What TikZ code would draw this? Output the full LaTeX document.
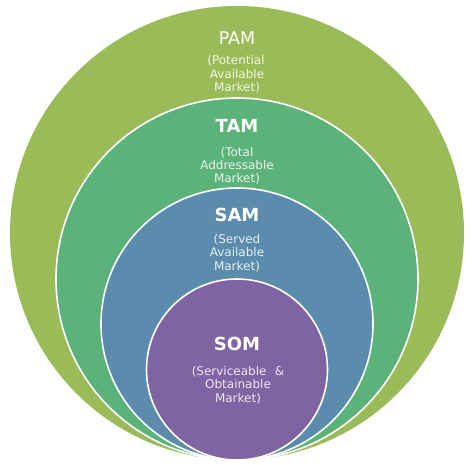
\documentclass[tikz,border=0pt]{standalone}
\usepackage{fontspec}
\setmainfont{DejaVu Sans}
\definecolor{pamc}{HTML}{9BBB59}
\definecolor{tamc}{HTML}{5CB37A}
\definecolor{samc}{HTML}{5B8CAE}
\definecolor{somc}{HTML}{8063A2}
\begin{document}
\begin{tikzpicture}[x=1pt,y=-1pt,
  ring/.style={draw=white,line width=1.6pt},
  ttl/.style={anchor=base,text=white,inner sep=0pt,font=\fontsize{18}{18}\selectfont\bfseries},
  sub/.style={anchor=base,inner sep=0pt,font=\fontsize{12}{13.5}\selectfont}]
\useasboundingbox (0,0) rectangle (474,465);
\fill[white] (0,0) rectangle (474,465);
\fill[pamc] (237,233) circle (227);
\filldraw[ring,fill=tamc] (237,279) circle (181);
\filldraw[ring,fill=samc] (237,324) circle (136);
\filldraw[ring,fill=somc] (237,369.5) circle (90.5);
% PAM
\node[ttl,font=\fontsize{17.5}{18}\selectfont] (pam) at (237,45) {PAM};
\node[sub,text=white!85!pamc] (pam1) at (236,65) {(Potential};
\node[sub,text=white!85!pamc] (pam2) at (237,78.5) {Available};
\node[sub,text=white!85!pamc] (pam3) at (237,92) {Market)};
% TAM
\node[ttl] (tam) at (237,133) {TAM};
\node[sub,text=white!85!tamc] (tam1) at (237,156.5) {(Total};
\node[sub,text=white!85!tamc] (tam2) at (237,170) {Addressable};
\node[sub,text=white!85!tamc] (tam3) at (237,183) {Market)};
% SAM
\node[ttl] (sam) at (237,221.5) {SAM};
\node[sub,text=white!85!samc] (sam1) at (237,243.5) {(Served};
\node[sub,text=white!85!samc] (sam2) at (237,257) {Available};
\node[sub,text=white!85!samc] (sam3) at (237,270) {Market)};
% SOM
\node[ttl] (som) at (237,350) {SOM};
\node[sub,text=white!85!somc] (som1) at (238,375) {(Serviceable\hspace{0.7em}\&};
\node[sub,text=white!85!somc] (som2) at (238,388.5) {Obtainable};
\node[sub,text=white!85!somc] (som3) at (238,402) {Market)};
\end{tikzpicture}
\end{document}
